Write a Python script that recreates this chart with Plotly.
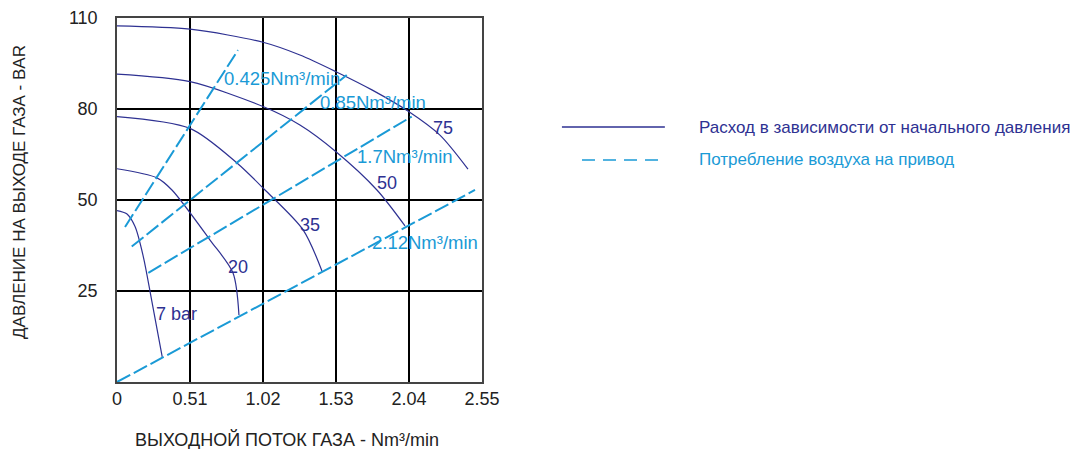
import numpy as np
import plotly.graph_objects as go

# ---- data (flow in Nm³/min, pressure in bar) ----
x_ticks = [0, 0.51, 1.02, 1.53, 2.04, 2.55]
x_ticktext = ["0", "0.51", "1.02", "1.53", "2.04", "2.55"]
y_tick_bar = [0, 25, 50, 80, 110]          # y axis labels are equally spaced
y_ticktext = ["", "25", "50", "80", "110"]

curve_labels = ["75", "50", "35", "20", "7 bar"]
flow_75 = [0, 0.51, 1.02, 1.278, 1.53, 1.781, 2.04, 2.256, 2.452]
pres_75 = [107.4, 106.3, 102.0, 97.8, 92.3, 86.3, 79.1, 71.4, 60.2]
flow_50 = [0, 0.51, 1.02, 1.278, 1.53, 1.816, 2.012]
pres_50 = [91.5, 89.0, 80.8, 74.7, 65.9, 53.3, 42.9]
flow_35 = [0, 0.51, 0.838, 1.034, 1.300, 1.432]
pres_35 = [77.5, 73.6, 62.2, 53.3, 41.8, 30.5]
flow_20 = [0, 0.279, 0.384, 0.650, 0.810, 0.852]
pres_20 = [60.3, 57.3, 53.3, 39.0, 30.0, 18.4]
flow_7 = [0, 0.068, 0.126, 0.184, 0.242, 0.316]
pres_7 = [47.1, 46.2, 42.7, 34.4, 22.5, 6.9]

air_labels = ["0.425Nm³/min", "0.85Nm³/min", "1.7Nm³/min", "2.12Nm³/min"]
air_flow = [[0.056, 0.845], [0.103, 1.605], [0.219, 2.059], [0.0, 2.501]]
air_pres = [[42.6, 99.4], [37.2, 91.2], [30.0, 77.5], [0.0, 53.3]]

legend_texts = ["Расход в зависимости от начального давления",
                "Потребление воздуха на привод"]

NAVY = "#2e3192"
CYAN = "#1a9ad6"
FONT = "Liberation Sans, Arial, sans-serif"


def to_u(bar):
    # y axis: equally spaced labels 0,25,50,80,110
    return np.interp(bar, y_tick_bar, range(len(y_tick_bar)))


fig = go.Figure()

curves = [(flow_75, pres_75), (flow_50, pres_50), (flow_35, pres_35),
          (flow_20, pres_20), (flow_7, pres_7)]
for (fx, fy) in curves:
    fig.add_trace(go.Scatter(x=fx, y=to_u(fy), mode="lines",
                             line=dict(color=NAVY, width=1.2, shape="spline", smoothing=0.8),
                             showlegend=False, hoverinfo="skip"))

for fx, fy in zip(air_flow, air_pres):
    fig.add_trace(go.Scatter(x=fx, y=to_u(fy), mode="lines",
                             line=dict(color=CYAN, width=2, dash="15px,4px"),
                             showlegend=False, hoverinfo="skip"))

# curve labels
curve_lab_pos = [(2.277, 73.7), (1.886, 55.6), (1.348, 43.1), (0.845, 31.6), (0.419, 18.7)]
for t, (px, py) in zip(curve_labels, curve_lab_pos):
    fig.add_annotation(x=px, y=to_u(py), text=t, showarrow=False,
                       xanchor="center", yanchor="middle",
                       font=dict(family=FONT, size=18, color=NAVY))

air_lab_pos = [(0.734, 89.9), (1.404, 82.3), (1.663, 64.2), (1.767, 38.2)]
for t, (px, py) in zip(air_labels, air_lab_pos):
    fig.add_annotation(x=px, y=to_u(py), text=t, showarrow=False,
                       xanchor="left", yanchor="middle",
                       font=dict(family=FONT, size=18.5, color=CYAN))

# axis titles
fig.add_annotation(xref="paper", yref="paper", x=0.466, y=-0.159,
                   xanchor="center", yanchor="middle",
                   text="ВЫХОДНОЙ ПОТОК ГАЗА - Nm³/min", showarrow=False,
                   font=dict(family=FONT, size=18, color="#222"))
fig.add_annotation(xref="paper", yref="paper", x=-0.266, y=0.522, textangle=-90,
                   xanchor="center", yanchor="middle",
                   text="ДАВЛЕНИЕ НА ВЫХОДЕ ГАЗА - BAR", showarrow=False,
                   font=dict(family=FONT, size=17, color="#222"))

# custom legend
fig.add_shape(type="line", xref="paper", yref="paper", x0=1.219, x1=1.501, y0=0.7005, y1=0.7005,
              line=dict(color=NAVY, width=1.5))
fig.add_shape(type="line", xref="paper", yref="paper", x0=1.274, x1=1.501, y0=0.61, y1=0.61,
              line=dict(color=CYAN, width=1.5, dash="13px,8px"))
fig.add_annotation(xref="paper", yref="paper", x=1.589, y=0.7005,
                   xanchor="left", yanchor="middle",
                   text=legend_texts[0], showarrow=False,
                   font=dict(family=FONT, size=17, color=NAVY))
fig.add_annotation(xref="paper", yref="paper", x=1.589, y=0.61,
                   xanchor="left", yanchor="middle",
                   text=legend_texts[1], showarrow=False,
                   font=dict(family=FONT, size=17, color=CYAN))

# page body has an 8px margin: shift the figure so the plot lands where the reference has it
fig.update_layout(
    width=1071, height=441,
    margin=dict(l=109, r=597, t=10, b=67, autoexpand=False),
    paper_bgcolor="white", plot_bgcolor="white",
    font=dict(family=FONT, size=18, color="#222"),
    showlegend=False,
)
fig.update_xaxes(range=[0, 2.55], tickvals=x_ticks, ticktext=x_ticktext, automargin=False,
                 showgrid=True, gridcolor="black", gridwidth=2, zeroline=False,
                 showline=True, linecolor="#444", linewidth=1.5, mirror=True,
                 ticks="", ticklabelstandoff=0, tickfont=dict(size=18, color="#222"))
fig.update_yaxes(range=[0, 4], tickvals=list(range(len(y_tick_bar))), ticktext=y_ticktext,
                 automargin=False,
                 showgrid=True, gridcolor="black", gridwidth=2, zeroline=False,
                 showline=True, linecolor="#444", linewidth=1.5, mirror=True,
                 ticks="", ticklabelstandoff=14, tickfont=dict(size=18, color="#222"))

fig.write_html("out.html")
